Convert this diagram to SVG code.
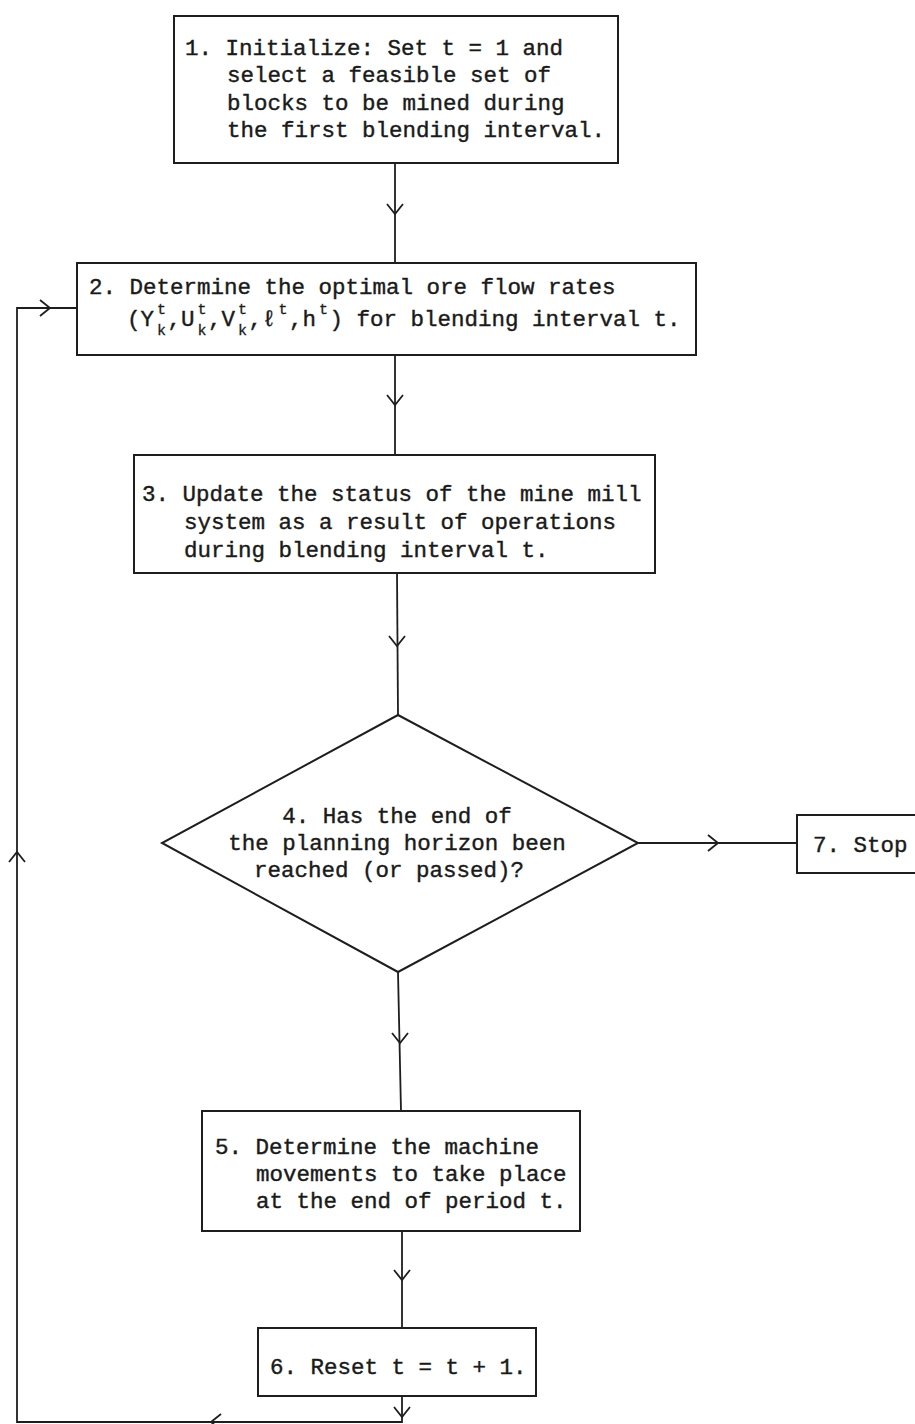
<svg xmlns="http://www.w3.org/2000/svg" xmlns:xlink="http://www.w3.org/1999/xlink" width="915" height="1424" viewBox="0 0 915 1424">
<style>
.bx{fill:#ffffff;stroke:#1e1e1e;stroke-width:2}
.ln{fill:none;stroke:#1e1e1e;stroke-width:1.8}
.ch{fill:none;stroke:#1e1e1e;stroke-width:1.8;stroke-linejoin:miter}
.tx{font-family:"Liberation Mono","DejaVu Sans Mono",monospace;font-size:22.5px;fill:#1a1a1a;stroke:#1a1a1a;stroke-width:0.4}
.sx{font-family:"Liberation Mono","DejaVu Sans Mono",monospace;font-size:15px;fill:#1a1a1a;stroke:#1a1a1a;stroke-width:0.3}
</style>
<defs>
<path id="chev" d="M-8,-10 L0,0 L8,-10"/>
</defs>
<rect x="0" y="0" width="915" height="1424" fill="#ffffff"/>
<g id="connectors">
<line class="ln" x1="395" y1="163" x2="395" y2="263"/>
<use xlink:href="#chev" class="ch" transform="translate(395,214)"/>
<line class="ln" x1="395" y1="355" x2="395" y2="455"/>
<use xlink:href="#chev" class="ch" transform="translate(395,405)"/>
<line class="ln" x1="397" y1="573" x2="398" y2="715"/>
<use xlink:href="#chev" class="ch" transform="translate(397,646)"/>
<line class="ln" x1="398" y1="972" x2="401" y2="1111"/>
<use xlink:href="#chev" class="ch" transform="translate(400,1043)"/>
<line class="ln" x1="402" y1="1231" x2="402" y2="1328"/>
<use xlink:href="#chev" class="ch" transform="translate(402,1280)"/>
<line class="ln" x1="638" y1="843" x2="797" y2="843"/>
<use xlink:href="#chev" class="ch" transform="translate(718,843) rotate(-90)"/>
<polyline class="ln" points="402,1396 402,1422 17,1422 17,308 77,308"/>
<use xlink:href="#chev" class="ch" transform="translate(402,1417)"/>
<use xlink:href="#chev" class="ch" transform="translate(211,1422) rotate(90)"/>
<use xlink:href="#chev" class="ch" transform="translate(17,852) rotate(180)"/>
<use xlink:href="#chev" class="ch" transform="translate(50,308) rotate(-90)"/>
</g>
<g id="n1">
<rect class="bx" x="174" y="16" width="444" height="147"/>
<text class="tx" x="185" y="55">1. Initialize: Set t = 1 and</text>
<text class="tx" x="227" y="82">select a feasible set of</text>
<text class="tx" x="227" y="110">blocks to be mined during</text>
<text class="tx" x="227" y="137">the first blending interval.</text>
</g>
<g id="n2">
<rect class="bx" x="77" y="263" width="619" height="92"/>
<text class="tx" x="89" y="294">2. Determine the optimal ore flow rates</text>
<text class="tx" x="127" y="326">(Y</text>
<text class="sx" x="157" y="314">t</text><text class="sx" x="157" y="335">k</text>
<text class="tx" x="167.5" y="326">,U</text>
<text class="sx" x="197.5" y="314">t</text><text class="sx" x="197.5" y="335">k</text>
<text class="tx" x="208" y="326">,V</text>
<text class="sx" x="238" y="314">t</text><text class="sx" x="238" y="335">k</text>
<text class="tx" x="248.5" y="326">,ℓ</text>
<text class="sx" x="278.5" y="314">t</text>
<text class="tx" x="289" y="326">,h</text>
<text class="sx" x="319" y="314">t</text>
<text class="tx" x="329.5" y="326">) for blending interval t.</text>
</g>
<g id="n3">
<rect class="bx" x="134" y="455" width="521" height="118"/>
<text class="tx" x="142" y="501">3. Update the status of the mine mill</text>
<text class="tx" x="184" y="529">system as a result of operations</text>
<text class="tx" x="184" y="557">during blending interval t.</text>
</g>
<g id="n4">
<polygon class="bx" points="398,715 638,843 398,972 162,843"/>
<text class="tx" x="397" y="823" text-anchor="middle">4. Has the end of</text>
<text class="tx" x="397" y="850" text-anchor="middle">the planning horizon been</text>
<text class="tx" x="389" y="877" text-anchor="middle">reached (or passed)?</text>
</g>
<g id="n5">
<rect class="bx" x="202" y="1111" width="378" height="120"/>
<text class="tx" x="215" y="1154">5. Determine the machine</text>
<text class="tx" x="256" y="1181">movements to take place</text>
<text class="tx" x="256" y="1208">at the end of period t.</text>
</g>
<g id="n6">
<rect class="bx" x="258" y="1328" width="278" height="68"/>
<text class="tx" x="270" y="1374">6. Reset t = t + 1.</text>
</g>
<g id="n7">
<rect class="bx" x="797" y="815" width="140" height="58"/>
<text class="tx" x="813" y="852">7. Stop</text>
</g>
</svg>
